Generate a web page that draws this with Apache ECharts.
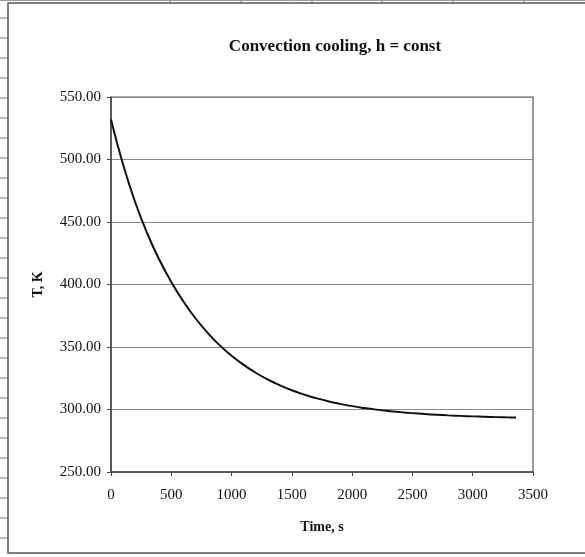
<!DOCTYPE html>
<html>
<head>
<meta charset="utf-8">
<style>
  html, body { margin: 0; padding: 0; background: #fff; }
  #chart { width: 585px; height: 557px; }
</style>
<script src="https://cdn.jsdelivr.net/npm/echarts@6/dist/echarts.min.js"></script>
</head>
<body>
<div id="chart"></div>
<script>
// Temperature of a body cooling by convection with constant h
const timeSeconds = [0, 100, 200, 300, 400, 500, 600, 700, 800, 900, 1000, 1100, 1200,
  1300, 1400, 1500, 1600, 1700, 1800, 1900, 2000, 2100, 2200, 2300, 2400, 2500, 2600,
  2700, 2800, 2900, 3000, 3100, 3200, 3300, 3360];
const temperatureK = [532, 496, 466, 441, 420, 402, 386.5, 373, 361.5, 351.5, 343, 335.7,
  329.4, 324, 319.4, 315.4, 312, 309.1, 306.6, 304.5, 302.7, 301.2, 299.9, 298.8, 297.9,
  297.1, 296.4, 295.8, 295.3, 294.9, 294.5, 294.2, 293.9, 293.7, 293.6];

const titleText = 'Convection cooling, h = const';
const xAxisTitle = 'Time, s';
const yAxisTitle = 'T, K';

const serif = '"Liberation Serif", "Times New Roman", serif';

// Worksheet gridlines peeking out around the embedded chart frame
const sheetLines = [];
for (let y = 18; y <= 540; y += 20) {
  sheetLines.push({ type: 'line', shape: { x1: 0, y1: y, x2: 8, y2: y },
    style: { stroke: '#777', lineWidth: 1 }, silent: true });
}
[170, 241, 312, 382, 453, 524].forEach(function (x) {
  sheetLines.push({ type: 'line', shape: { x1: x, y1: 0, x2: x, y2: 3 },
    style: { stroke: '#777', lineWidth: 1 }, silent: true });
});
sheetLines.push({ type: 'line', shape: { x1: 0, y1: 0.5, x2: 585, y2: 0.5 },
  style: { stroke: '#999', lineWidth: 1 }, silent: true });
// Chart frame
sheetLines.push({ type: 'rect', shape: { x: 8, y: 3, width: 600, height: 550 },
  style: { fill: 'none', stroke: '#555', lineWidth: 1.5 }, silent: true });

const chart = echarts.init(document.getElementById('chart'), null, { renderer: 'canvas' });
chart.setOption({
  animation: false,
  backgroundColor: '#fff',
  textStyle: { fontFamily: serif },
  title: {
    text: titleText,
    left: 330,
    top: 33,
    textAlign: 'center',
    textStyle: { fontFamily: serif, fontWeight: 'bold', fontSize: 17, color: '#111' }
  },
  graphic: sheetLines,
  grid: {
    left: 111, right: 52, top: 97, bottom: 85,
    show: true, borderColor: '#555', borderWidth: 1.2, backgroundColor: 'transparent'
  },
  xAxis: {
    type: 'value',
    min: 0, max: 3500, interval: 500,
    name: xAxisTitle,
    nameLocation: 'middle',
    nameGap: 48,
    nameTextStyle: { fontFamily: serif, fontWeight: 'bold', fontSize: 14, color: '#111' },
    axisLine: { show: true, lineStyle: { color: '#444', width: 1.5 } },
    axisTick: { show: true, inside: false, length: 4, lineStyle: { color: '#444' } },
    axisLabel: { fontFamily: serif, fontSize: 15, color: '#111', margin: 16,
      formatter: function (v) { return String(v); } },
    splitLine: { show: false }
  },
  yAxis: {
    type: 'value',
    min: 250, max: 550, interval: 50,
    name: yAxisTitle,
    nameLocation: 'middle',
    nameGap: 66,
    nameRotate: 90,
    nameTextStyle: { fontFamily: serif, fontWeight: 'bold', fontSize: 14, color: '#111' },
    axisLine: { show: true, lineStyle: { color: '#444', width: 1.5 } },
    axisTick: { show: true, inside: false, length: 4, lineStyle: { color: '#444' } },
    axisLabel: { fontFamily: serif, fontSize: 15, color: '#111', margin: 10,
      formatter: function (v) { return v.toFixed(2); } },
    splitLine: { show: true, lineStyle: { color: '#8a8a8a', width: 1 } }
  },
  series: [{
    type: 'line',
    data: timeSeconds.map(function (t, i) { return [t, temperatureK[i]]; }),
    smooth: true,
    showSymbol: false,
    lineStyle: { color: '#111', width: 2 }
  }]
});
</script>
</body>
</html>
